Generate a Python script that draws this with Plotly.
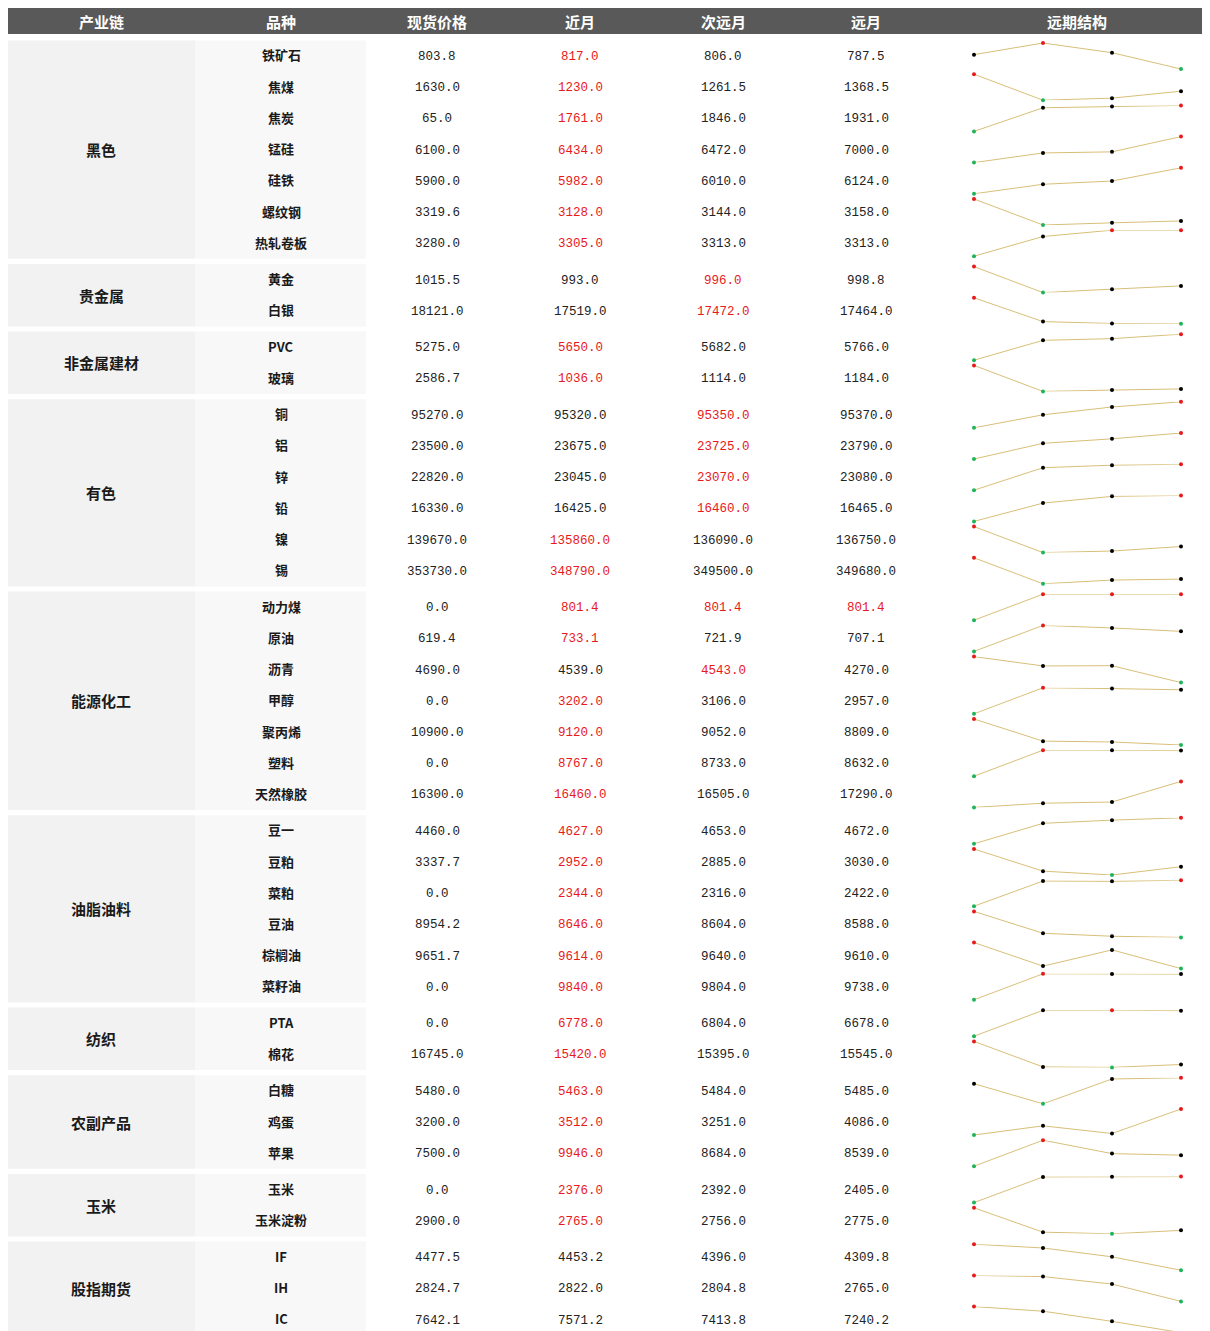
import plotly.graph_objects as go

# ---------------- data ----------------
groups = ["黑色", "贵金属", "非金属建材", "有色", "能源化工", "油脂油料", "纺织", "农副产品", "玉米", "股指期货"]
group_sizes = [7, 2, 2, 6, 7, 6, 2, 3, 2, 3]

varieties = ["铁矿石", "焦煤", "焦炭", "锰硅", "硅铁", "螺纹钢", "热轧卷板",
             "黄金", "白银",
             "PVC", "玻璃",
             "铜", "铝", "锌", "铅", "镍", "锡",
             "动力煤", "原油", "沥青", "甲醇", "聚丙烯", "塑料", "天然橡胶",
             "豆一", "豆粕", "菜粕", "豆油", "棕榈油", "菜籽油",
             "PTA", "棉花",
             "白糖", "鸡蛋", "苹果",
             "玉米", "玉米淀粉",
             "IF", "IH", "IC"]

spot = [803.8, 1630.0, 65.0, 6100.0, 5900.0, 3319.6, 3280.0,
        1015.5, 18121.0,
        5275.0, 2586.7,
        95270.0, 23500.0, 22820.0, 16330.0, 139670.0, 353730.0,
        0.0, 619.4, 4690.0, 0.0, 10900.0, 0.0, 16300.0,
        4460.0, 3337.7, 0.0, 8954.2, 9651.7, 0.0,
        0.0, 16745.0,
        5480.0, 3200.0, 7500.0,
        0.0, 2900.0,
        4477.5, 2824.7, 7642.1]

near = [817.0, 1230.0, 1761.0, 6434.0, 5982.0, 3128.0, 3305.0,
        993.0, 17519.0,
        5650.0, 1036.0,
        95320.0, 23675.0, 23045.0, 16425.0, 135860.0, 348790.0,
        801.4, 733.1, 4539.0, 3202.0, 9120.0, 8767.0, 16460.0,
        4627.0, 2952.0, 2344.0, 8646.0, 9614.0, 9840.0,
        6778.0, 15420.0,
        5463.0, 3512.0, 9946.0,
        2376.0, 2765.0,
        4453.2, 2822.0, 7571.2]

next_month = [806.0, 1261.5, 1846.0, 6472.0, 6010.0, 3144.0, 3313.0,
              996.0, 17472.0,
              5682.0, 1114.0,
              95350.0, 23725.0, 23070.0, 16460.0, 136090.0, 349500.0,
              801.4, 721.9, 4543.0, 3106.0, 9052.0, 8733.0, 16505.0,
              4653.0, 2885.0, 2316.0, 8604.0, 9640.0, 9804.0,
              6804.0, 15395.0,
              5484.0, 3251.0, 8684.0,
              2392.0, 2756.0,
              4396.0, 2804.8, 7413.8]

far = [787.5, 1368.5, 1931.0, 7000.0, 6124.0, 3158.0, 3313.0,
       998.8, 17464.0,
       5766.0, 1184.0,
       95370.0, 23790.0, 23080.0, 16465.0, 136750.0, 349680.0,
       801.4, 707.1, 4270.0, 2957.0, 8809.0, 8632.0, 17290.0,
       4672.0, 3030.0, 2422.0, 8588.0, 9610.0, 9738.0,
       6678.0, 15545.0,
       5485.0, 4086.0, 8539.0,
       2405.0, 2775.0,
       4309.8, 2765.0, 7240.2]

# which contract column is highlighted (red): 1=近月, 2=次远月, 3=远月
highlight = [[1], [1], [1], [1], [1], [1], [1],
             [2], [2],
             [1], [1],
             [2], [2], [2], [2], [1], [1],
             [1, 2, 3], [1], [2], [1], [1], [1], [1],
             [1], [1], [1], [1], [1], [1],
             [1], [1],
             [1], [1], [1],
             [1], [1],
             [], [], []]

headers = ["产业链", "品种", "现货价格", "近月", "次远月", "远月", "远期结构"]

# ---------------- layout constants (screen px) ----------------
OX, OY = 8, 8
W, H = 1210, 1323
col_x = [101, 281, 437, 580, 723, 866, 1077]
ROW0, STEP, GAP = 56, 31.2, 5.2
HEAD_TOP, HEAD_BOT = 6, 34
GROUP_X = (8, 195)
VAR_X = (195, 366)
SPARK_X = (974, 1181)
SPARK_HALF = 13

HEADER_BG = "#595959"
GROUP_BG = "#f2f2f2"
VAR_BG = "#f8f8f8"
RED = "#e8191b"
GREEN = "#1fb45a"
LINE = "#d8bf78"
CJK = "Noto Sans CJK SC"
NUM = "Liberation Mono"


def fx(x):
    return (x - OX) / W


def fy(y):
    return 1 - (y - OY) / H


# row centers
centers = []
group_spans = []
y = ROW0
for gi, n in enumerate(group_sizes):
    first = y
    for k in range(n):
        centers.append(y)
        if k < n - 1:
            y += STEP
    group_spans.append((first - STEP / 2, y + STEP / 2))
    y += STEP + GAP

fig = go.Figure()
shapes = []
annotations = []

# header
shapes.append(dict(type="rect", xref="paper", yref="paper", x0=fx(8), x1=1.0,
                   y0=fy(HEAD_BOT), y1=min(1.0, fy(HEAD_TOP)), fillcolor=HEADER_BG, line=dict(width=0), layer="below"))
for h, cx in zip(headers, col_x):
    annotations.append(dict(x=fx(cx), y=fy(21), xref="paper", yref="paper",
                            text=f"<b>{h}</b>", showarrow=False,
                            font=dict(family=CJK, size=15, color="white"),
                            xanchor="center", yanchor="middle"))

# group blocks
for gi, (g, n) in enumerate(zip(groups, group_sizes)):
    top, bot = group_spans[gi]
    y0 = max(0.0, fy(bot))
    shapes.append(dict(type="rect", xref="paper", yref="paper", x0=fx(GROUP_X[0]), x1=fx(GROUP_X[1]),
                       y0=y0, y1=fy(top), fillcolor=GROUP_BG, line=dict(width=0), layer="below"))
    shapes.append(dict(type="rect", xref="paper", yref="paper", x0=fx(VAR_X[0]), x1=fx(VAR_X[1]),
                       y0=y0, y1=fy(top), fillcolor=VAR_BG, line=dict(width=0), layer="below"))
    annotations.append(dict(x=fx(col_x[0]), y=fy((top + bot) / 2), xref="paper", yref="paper",
                            text=f"<b>{g}</b>", showarrow=False,
                            font=dict(family=CJK, size=15, color="#1a1a1a"),
                            xanchor="center", yanchor="middle"))

# rows
for i, name in enumerate(varieties):
    cy = centers[i]
    annotations.append(dict(x=fx(col_x[1]), y=fy(cy - 1), xref="paper", yref="paper",
                            text=f"<b>{name}</b>", showarrow=False,
                            font=dict(family=CJK, size=13, color="#1a1a1a"),
                            xanchor="center", yanchor="middle"))
    vals = [spot[i], near[i], next_month[i], far[i]]
    for c, v in enumerate(vals):
        color = RED if (c in highlight[i]) else "#222222"
        annotations.append(dict(x=fx(col_x[2 + c]), y=fy(cy + 1), xref="paper", yref="paper",
                                text=f"{v:.1f}", showarrow=False,
                                font=dict(family=NUM, size=12.5, color=color),
                                xanchor="center", yanchor="middle"))

# sparklines: one y-axis per row, shared x-axis
layout_axes = {}
layout_axes["xaxis2"] = dict(domain=[fx(SPARK_X[0]), fx(SPARK_X[1])], range=[0, 3],
                             visible=False, anchor="y2", fixedrange=True)
for i in range(len(varieties)):
    vals = [spot[i], near[i], next_month[i], far[i]]
    vmax, vmin = max(vals), min(vals)
    cols = [RED if v == vmax else (GREEN if v == vmin else "#000000") for v in vals]
    ax = i + 2
    cy = centers[i]
    lo, hi = (vmin, vmax) if vmax > vmin else (vmin - 1, vmax + 1)
    d0, d1 = fy(cy + SPARK_HALF), fy(cy - SPARK_HALF)
    if d0 < 0:
        lo = lo + (0 - d0) / (d1 - d0) * (hi - lo)
        d0 = 0.0
    if d1 > 1:
        hi = hi - (d1 - 1) / (d1 - d0) * (hi - lo)
        d1 = 1.0
    layout_axes[f"yaxis{ax}"] = dict(domain=[d0, d1], range=[lo, hi],
                                     visible=False, anchor="x2", fixedrange=True)
    fig.add_trace(go.Scatter(x=[0, 1, 2, 3], y=vals, xaxis="x2", yaxis=f"y{ax}",
                             mode="lines+markers", cliponaxis=False,
                             line=dict(color=LINE, width=1),
                             marker=dict(color=cols, size=4),
                             hoverinfo="skip", showlegend=False))

fig.update_layout(
    width=W, height=H,
    margin=dict(l=0, r=0, t=0, b=0),
    paper_bgcolor="white", plot_bgcolor="rgba(0,0,0,0)",
    shapes=shapes, annotations=annotations,
    xaxis=dict(visible=False), yaxis=dict(visible=False),
    showlegend=False,
    **layout_axes,
)

fig.write_html("out.html")
